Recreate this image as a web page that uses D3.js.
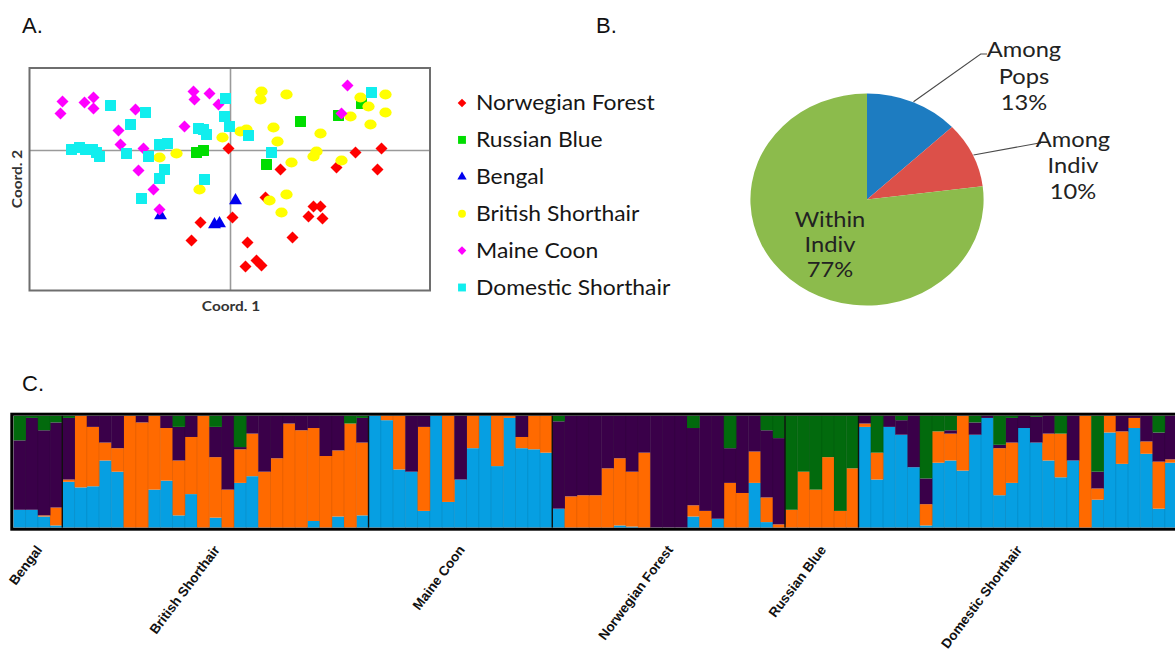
<!DOCTYPE html>
<html>
<head>
<meta charset="utf-8">
<script src="https://cdn.jsdelivr.net/npm/d3@7"></script>
<style>
  body { margin: 0; background: #fff; }
  svg { display: block; }
</style>
</head>
<body>
<svg id="fig" width="1175" height="651"></svg>
<script>
// ---------------- Panel A: PCoA coordinates (Coord. 1, Coord. 2) by breed ----------------
const breeds = ["Norwegian Forest", "Russian Blue", "Bengal", "British Shorthair", "Maine Coon", "Domestic Shorthair"];
const breedColors = ["#ff0000", "#00dd00", "#0000ee", "#ffff00", "#ff00ff", "#11eeee"];
const breedShapes = ["diamond", "square", "triangle", "circle", "diamond", "square"];

const norwegianForest = [[-0.02,0.02],[-0.30,-0.72],[-0.39,-0.90],[0.02,-0.67],[0.50,-0.19],[1.06,-0.17],[1.25,-0.02],
  [1.51,0.02],[1.47,-0.19],[0.35,-0.47],[0.83,-0.56],[0.90,-0.56],[0.78,-0.66],[0.92,-0.68],[0.62,-0.87],[0.17,-0.92],
  [0.15,-1.16],[0.26,-1.10],[0.31,-1.15]];
const russianBlue = [[-0.34,-0.02],[-0.27,0.00],[0.70,0.29],[1.08,0.35],[0.36,-0.14],[1.31,0.47]];
const bengal = [[-0.70,-0.65],[-0.16,-0.74],[-0.11,-0.73],[0.05,-0.50]];
const britishShorthair = [[-0.08,0.13],[-0.54,-0.03],[-0.71,-0.07],[-0.31,-0.39],[0.31,0.59],[0.30,0.51],[0.56,0.56],
  [0.10,0.19],[0.16,0.21],[0.43,0.23],[0.47,0.09],[0.90,0.17],[0.86,-0.01],[0.83,-0.06],[0.61,-0.12],[1.11,-0.10],
  [1.20,0.34],[1.30,0.53],[1.38,0.44],[1.55,0.56],[1.55,0.38],[1.40,0.26],[0.56,-0.44],[0.39,-0.50],[0.51,-0.62]];
const maineCoon = [[-1.68,0.49],[-1.70,0.37],[-1.46,0.48],[-1.37,0.53],[-1.37,0.42],[-0.95,0.41],[-1.12,0.20],
  [-1.10,0.06],[-0.87,0.02],[-0.92,-0.20],[-0.77,-0.39],[-0.71,-0.59],[-0.37,0.59],[-0.36,0.51],[-0.21,0.57],
  [-0.12,0.46],[-0.46,0.24],[1.17,0.65],[1.11,0.37]];
const domesticShorthair = [[-1.20,0.45],[-0.85,0.38],[-1.00,0.26],[-1.59,0.01],[-1.51,0.03],[-1.45,0.01],[-1.38,0.01],
  [-1.34,-0.02],[-1.31,-0.06],[-1.04,-0.03],[-0.82,-0.06],[-0.71,0.06],[-0.63,0.07],[-0.66,-0.19],[-0.71,-0.28],
  [-0.89,-0.48],[-0.32,0.22],[-0.27,0.21],[-0.24,0.16],[-0.26,-0.29],[-0.05,0.52],[-0.06,0.34],[-0.01,0.24],
  [0.18,0.15],[0.41,-0.02],[1.41,0.58]];
const breedPoints = [norwegianForest, russianBlue, bengal, britishShorthair, maineCoon, domesticShorthair];

// ---------------- Panel B: AMOVA variance partition ----------------
const amovaSources = ["Among Pops", "Among Indiv", "Within Indiv"];
const amovaPercent = [13, 10, 77];
const amovaColors = ["#1d7cc1", "#dc5049", "#8cbb4c"];

// ---------------- Panel C: STRUCTURE membership (K = 4) ----------------
const populations = ["Bengal", "British Shorthair", "Maine Coon", "Norwegian Forest", "Russian Blue", "Domestic Shorthair"];
const populationSizes = [4, 25, 15, 19, 6, 26];
const clusterKeys = ["blue", "orange", "purple", "green"];
const clusterColors = ["#069fe2", "#ff6a00", "#3a0049", "#026a0d"];

const clusterBlue = [
  .16,.16,.10,.02,
  .41,.36,.37,.60,.50,0,0,.34,.42,.11,.30,0,.09,0,.40,.46,0,0,0,0,.06,0,.10,0,.11,
  1,.96,.52,.50,.15,1,.23,.43,.71,1,.55,.98,.71,.70,.67,
  .17,0,0,0,0,.02,.01,0,0,0,0,.10,0,.08,0,0,.40,.05,0,
  0,0,0,0,0,0,
  .90,.43,.90,.83,.54,.02,.58,.60,.51,.83,.98,.29,.40,.89,.76,.60,.45,.60,0,.25,.85,.57,.89,.66,.17,.58];
const clusterOrange = [
  0,0,.01,.16,
  .02,.64,.53,.16,.21,1,.94,.66,.47,.49,.51,1,.54,.34,.30,.38,.50,.62,.93,.87,.83,.64,.59,.93,.65,
  0,.04,.48,0,.75,0,.77,0,.29,0,.45,.02,.10,.30,.33,
  0,.28,.29,.29,.53,.60,.49,.67,0,0,0,.10,.15,0,.40,.31,.28,.22,.03,
  .16,.50,.34,.63,.15,.53,
  .03,.24,0,0,0,.19,.28,.24,.49,0,0,.42,.36,0,0,.24,.39,0,1,.10,.15,.29,.09,.11,.42,.03];
const clusterPurple = [
  .62,.82,.76,.76,
  .55,0,.10,.24,.29,0,.06,0,.11,.30,.19,0,.27,.66,.02,.16,.50,.38,.07,.13,.11,.36,.31,0,.22,
  0,0,0,.50,.10,0,0,.57,0,0,0,0,.19,0,0,
  .78,.72,.71,.71,.47,.38,.50,.33,1,1,1,.69,.85,.92,.31,.69,.32,.60,.77,
  0,0,0,0,0,0,
  .07,0,.10,.13,.46,.23,0,.03,0,.11,.02,.03,.22,.11,.23,.16,0,.40,0,.15,0,.14,.02,.23,.26,.39];
const clusterGreen = [
  .22,.02,.13,.06,
  .02,0,0,0,0,0,0,0,0,.10,0,0,.10,0,.28,0,0,0,0,0,0,0,0,.07,.02,
  0,0,0,0,0,0,0,0,0,0,0,0,0,0,0,
  .05,0,0,0,0,0,0,0,0,0,0,.11,0,0,.29,0,0,.13,.20,
  .84,.50,.66,.37,.85,.47,
  0,.33,0,.04,0,.56,.14,.13,0,.06,0,.26,.02,0,.01,0,.16,0,0,.50,0,0,0,0,.15,0];

// ---------------------------------------------------------------------------
const svg = d3.select("#fig");
svg.append("rect").attr("width", 1175).attr("height", 651).attr("fill", "#fff");

const sansFont = "'Liberation Sans', Arial, sans-serif";
const bodyFont = "Lato, 'Open Sans', sans-serif";
const stretch = 1.1; // slightly wide lettering used in panels A and B

function wideText(parent, x, y, str, opts) {
  const t = parent.append("text")
    .attr("transform", `translate(${x},${y}) scale(${stretch},1)`)
    .attr("font-family", bodyFont)
    .attr("font-size", opts.size)
    .attr("font-weight", opts.weight || "normal")
    .attr("fill", opts.fill || "#222")
    .attr("text-anchor", opts.anchor || "start")
    .text(str);
  return t;
}

function symbolPath(shape, scale) {
  const s = scale || 1;
  if (shape === "diamond") return d3.symbol(d3.symbolSquare, 72 * s * s)();
  if (shape === "square") return d3.symbol(d3.symbolSquare, 120 * s * s)();
  if (shape === "triangle") return d3.symbol(d3.symbolTriangle, 72 * s * s)();
  return d3.symbol(d3.symbolCircle, 94 * s * s)();
}
function symbolRotate(shape) { return shape === "diamond" ? 45 : 0; }

// Panel letters
[["A.", 22, 33], ["B.", 596, 33], ["C.", 22, 391]].forEach(([s, x, y]) => {
  svg.append("text").attr("x", x).attr("y", y)
    .attr("font-family", sansFont).attr("font-size", 22).attr("fill", "#111").text(s);
});

// ---------------- Panel A ----------------
const xA = d3.scaleLinear().domain([-2.01, 1.995]).range([29.5, 430]);
const yA = d3.scaleLinear().domain([-1.40, 0.825]).range([290.5, 68]);
const gA = svg.append("g");

gA.append("line").attr("x1", xA(0)).attr("x2", xA(0)).attr("y1", yA.range()[0]).attr("y2", yA.range()[1])
  .attr("stroke", "#9a9a9a").attr("stroke-width", 1.6);
gA.append("line").attr("x1", xA.range()[0]).attr("x2", xA.range()[1]).attr("y1", yA(0)).attr("y2", yA(0))
  .attr("stroke", "#9a9a9a").attr("stroke-width", 1.6);

breedPoints.forEach((pts, i) => {
  gA.append("g").selectAll("path").data(pts).join("path")
    .attr("d", symbolPath(breedShapes[i]))
    .attr("transform", d => `translate(${xA(d[0])},${yA(d[1])}) rotate(${symbolRotate(breedShapes[i])})` +
      (breedShapes[i] === "circle" ? " scale(1.12,0.92)" : ""))
    .attr("fill", breedColors[i]);
});

gA.append("rect").attr("x", xA.range()[0]).attr("y", yA.range()[1])
  .attr("width", xA.range()[1] - xA.range()[0]).attr("height", yA.range()[0] - yA.range()[1])
  .attr("fill", "none").attr("stroke", "#6e6e6e").attr("stroke-width", 2);

wideText(gA, 231, 311, "Coord. 1", { size: 14, weight: "bold", anchor: "middle", fill: "#333" });
gA.append("text")
  .attr("transform", `translate(22,179) rotate(-90) scale(${stretch},1)`)
  .attr("font-family", bodyFont).attr("font-size", 14).attr("font-weight", "bold")
  .attr("fill", "#333").attr("text-anchor", "middle").text("Coord. 2");

// legend
const legendY = d3.scalePoint().domain(breeds).range([103, 287.5]);
const gLeg = svg.append("g");
breeds.forEach((b, i) => {
  gLeg.append("path").attr("d", symbolPath(breedShapes[i], 0.72))
    .attr("transform", `translate(462,${legendY(b)}) rotate(${symbolRotate(breedShapes[i])})`)
    .attr("fill", breedColors[i]);
  wideText(gLeg, 476, legendY(b) + 7, b, { size: 20.8, fill: "#161616" });
});

// ---------------- Panel B ----------------
const gB = svg.append("g");
const pieG = gB.append("g").attr("transform", `translate(867,199.5) scale(${stretch},1)`);
const pie = d3.pie().sort(null).value(d => d)(amovaPercent);
const arc = d3.arc().innerRadius(0).outerRadius(106);
pieG.selectAll("path").data(pie).join("path")
  .attr("d", arc).attr("fill", (d, i) => amovaColors[i]);

const leaders = [[[913.5, 101.7], [980.7, 54], [987, 54]], [[973.5, 155], [1038, 143.3], [1041, 143.3]]];
leaders.forEach(pts => {
  gB.append("path").attr("d", d3.line()(pts)).attr("fill", "none")
    .attr("stroke", "#4a4a4a").attr("stroke-width", 1.1);
});

function pieLabel(cx, baseline, source, pct, gap) {
  const words = source.split(" ");
  [words[0], words[1], pct + "%"].forEach((s, k) => {
    wideText(gB, cx, baseline + k * gap, s, { size: 21.5, anchor: "middle", fill: "#222" });
  });
}
pieLabel(1024, 57, amovaSources[0], amovaPercent[0], 26.5);
pieLabel(1073, 146.5, amovaSources[1], amovaPercent[1], 26);
pieLabel(830, 226.5, amovaSources[2], amovaPercent[2], 25);

// ---------------- Panel C ----------------
const nInd = clusterBlue.length;
const individuals = d3.range(nInd).map(i => ({
  id: i, blue: clusterBlue[i], orange: clusterOrange[i], purple: clusterPurple[i], green: clusterGreen[i]
}));
const xC = d3.scaleBand().domain(d3.range(nInd)).range([13.3, 1177]).paddingInner(0).paddingOuter(0);
const yC = d3.scaleLinear().domain([0, 1]).range([527.7, 415.7]);
const stacked = d3.stack().keys(clusterKeys)(individuals);

const gC = svg.append("g");
gC.append("defs").append("clipPath").attr("id", "barClip")
  .append("rect").attr("x", xC.range()[0]).attr("y", yC(1)).attr("width", xC.range()[1] - xC.range()[0])
  .attr("height", yC(0) - yC(1));
const barsG = gC.append("g").attr("clip-path", "url(#barClip)");
stacked.forEach((layer, k) => {
  barsG.append("g").selectAll("rect").data(layer).join("rect")
    .attr("x", d => xC(d.data.id))
    .attr("width", xC.bandwidth() + 0.4)
    .attr("y", d => yC(d[1]))
    .attr("height", d => Math.max(0, yC(d[0]) - yC(d[1])))
    .attr("fill", clusterColors[k]);
});
// faint lines between individuals
barsG.append("g").selectAll("line").data(d3.range(1, nInd)).join("line")
  .attr("x1", d => xC(d)).attr("x2", d => xC(d))
  .attr("y1", yC(1)).attr("y2", yC(0))
  .attr("stroke", "#000").attr("stroke-opacity", 0.12).attr("stroke-width", 0.8);

// population boundaries
const popStarts = d3.cumsum([0].concat(populationSizes.slice(0, -1)));
barsG.append("g").selectAll("line").data(popStarts.slice(1)).join("line")
  .attr("x1", d => xC(d)).attr("x2", d => xC(d))
  .attr("y1", yC(1)).attr("y2", yC(0))
  .attr("stroke", "#111").attr("stroke-width", 1.4);

gC.append("rect").attr("x", xC.range()[0] - 1.5).attr("y", yC(1) - 1.5)
  .attr("width", xC.range()[1] - xC.range()[0] + 3).attr("height", yC(0) - yC(1) + 3)
  .attr("fill", "none").attr("stroke", "#000").attr("stroke-width", 3);

// population labels
populations.forEach((p, i) => {
  const start = xC(popStarts[i]);
  const end = xC(popStarts[i] + populationSizes[i] - 1) + xC.bandwidth();
  const cx = (start + end) / 2 + 5;
  gC.append("text")
    .attr("transform", `translate(${cx},${550}) rotate(-53)`)
    .attr("font-family", sansFont).attr("font-size", 13.5).attr("font-weight", "bold")
    .attr("fill", "#111").attr("text-anchor", "end").text(p);
});
</script>
</body>
</html>
